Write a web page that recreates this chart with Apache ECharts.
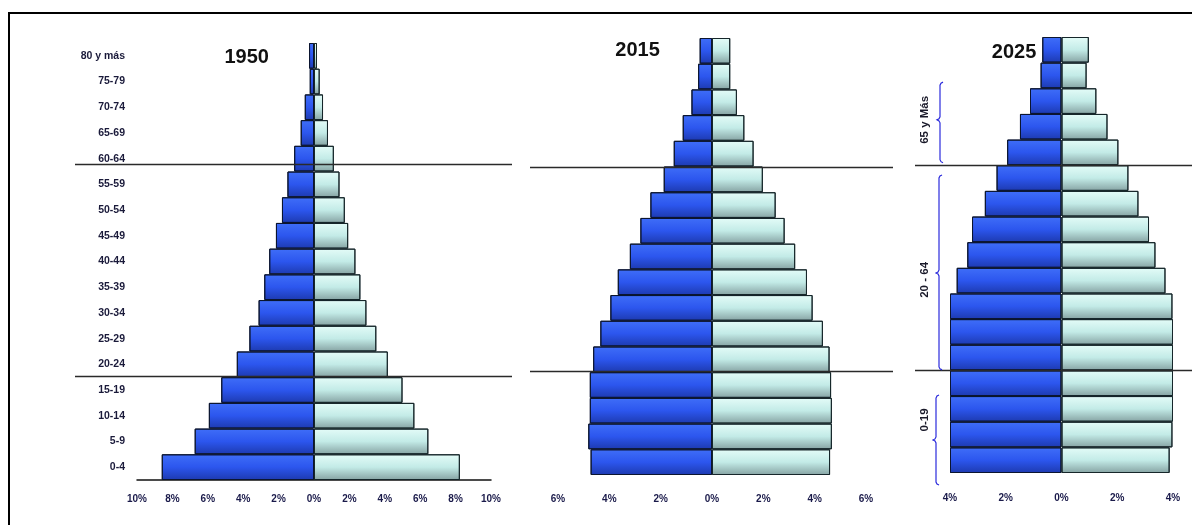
<!DOCTYPE html>
<html>
<head>
<meta charset="utf-8">
<script src="https://cdn.jsdelivr.net/npm/echarts@6/dist/echarts.min.js"></script>
<style>
html,body{margin:0;padding:0;background:#fff;}
#c{width:1192px;height:525px;}
</style>
</head>
<body>
<div id="c"></div>
<script>
// Age groups, bottom (youngest) to top
var categories = ['0-4','5-9','10-14','15-19','20-24','25-29','30-34','35-39','40-44','45-49','50-54','55-59','60-64','65-69','70-74','75-79','80 y más'];
var years = ['1950','2015','2025'];
// percentages (male shown left, female right)
var male1950   = [8.6,6.74,5.94,5.24,4.36,3.65,3.13,2.81,2.53,2.15,1.81,1.5,1.12,0.75,0.52,0.24,0.28];
var female1950 = [8.24,6.46,5.67,5.0,4.17,3.52,2.96,2.62,2.34,1.93,1.74,1.44,1.12,0.79,0.51,0.32,0.17];
var male2015   = [4.73,4.82,4.76,4.76,4.63,4.35,3.96,3.67,3.2,2.79,2.4,1.88,1.49,1.14,0.8,0.54,0.48];
var female2015 = [4.6,4.67,4.67,4.64,4.58,4.32,3.92,3.7,3.24,2.83,2.48,1.98,1.62,1.26,0.97,0.71,0.71];
var male2025   = [4.0,4.0,4.0,4.0,4.0,4.0,4.0,3.76,3.38,3.21,2.75,2.33,1.95,1.49,1.13,0.75,0.69];
var female2025 = [3.88,3.98,4.0,4.0,4.0,4.0,3.98,3.73,3.37,3.14,2.76,2.4,2.04,1.65,1.25,0.9,0.98];
var axisMax = [10,6,4];
var groupLabels = ['65 y Más','20 - 64','0-19'];

var FONT = '"Liberation Sans Narrow","Arial Narrow","Liberation Sans",Arial,sans-serif';
var maleColor = new echarts.graphic.LinearGradient(0,0,0,1,[
  {offset:0,color:'#3f6ef8'},{offset:0.5,color:'#2c56ee'},{offset:1,color:'#1d3ab0'}]);
var femaleColor = new echarts.graphic.LinearGradient(0,0,0,1,[
  {offset:0,color:'#e4fcf8'},{offset:0.5,color:'#c3ebe7'},{offset:1,color:'#86a3a3'}]);

var grids = [
  {left:137, right:701, top:43, bottom:45},
  {left:558, right:326, top:38, bottom:50},
  {left:950, right:19, top:37, bottom:52}
];
var labelMargin = [14, 19, 20];
var maleData = [male1950, male2015, male2025];
var femaleData = [female1950, female2015, female2025];

var xAxes = [], yAxes = [], series = [];
for (var i = 0; i < 3; i++) {
  xAxes.push({
    type:'value', gridIndex:i, min:-axisMax[i], max:axisMax[i], interval:2,
    axisLine:{show:i===0, onZero:false, lineStyle:{color:'#111', width:1.5}},
    axisTick:{show:false}, splitLine:{show:false},
    axisLabel:{margin:labelMargin[i], color:'#1a1a4a', fontWeight:'bold', fontSize:10, fontFamily:FONT,
      formatter:function(v){return Math.abs(v)+'%';}}
  });
  yAxes.push({
    type:'category', gridIndex:i, data:categories,
    axisLine:{show:false, onZero:false}, axisTick:{show:false},
    axisLabel:{show:i===0, margin:12, color:'#1a1a3a', fontWeight:'bold', fontSize:10.5, fontFamily:FONT}
  });
  series.push({
    type:'bar', name:'Hombres '+years[i], xAxisIndex:i, yAxisIndex:i,
    data: maleData[i].map(function(v){return -v;}),
    barCategoryGap:'0%', barGap:'-100%',
    itemStyle:{color:maleColor, borderColor:'#0b1530', borderWidth:1}
  });
  series.push({
    type:'bar', name:'Mujeres '+years[i], xAxisIndex:i, yAxisIndex:i,
    data: femaleData[i],
    barCategoryGap:'0%', barGap:'-100%',
    itemStyle:{color:femaleColor, borderColor:'#16262a', borderWidth:1}
  });
}

var chart = echarts.init(document.getElementById('c'), null, {renderer:'canvas'});
chart.setOption({
  animation:false,
  backgroundColor:'#fff',
  grid:grids, xAxis:xAxes, yAxis:yAxes, series:series
});

// helpers built from the library's own axes
function yAt(gi, p) {
  var y0 = chart.convertToPixel({yAxisIndex:gi}, categories[0]);
  var y1 = chart.convertToPixel({yAxisIndex:gi}, categories[1]);
  return y0 + p*(y1-y0);
}
function xAt(gi, v) { return chart.convertToPixel({xAxisIndex:gi}, v); }

var g = [];
// frame
g.push({type:'rect', shape:{x:9, y:13, width:1200, height:520}, style:{fill:'none', stroke:'#000', lineWidth:2}, z:100});
// titles
var titlePos = [[xAt(0,-3.8), 57],[xAt(1,-2.9), 50],[xAt(2,-1.7), 52]];
for (var t = 0; t < 3; t++) {
  g.push({type:'text', x:titlePos[t][0], y:titlePos[t][1],
    style:{text:years[t], fill:'#111', font:'bold 20px '+FONT, align:'center', verticalAlign:'middle'}, z:50});
}
// separator lines (between age groups)
var linePos = [[11.8,3.55],[11.5,3.55],[11.5,3.5]];
var lineX = [[75,512],[530,893],[915,1192]];
for (var k = 0; k < 3; k++) {
  for (var m = 0; m < 2; m++) {
    var yy = Math.round(yAt(k, linePos[k][m])) + 0.5;
    g.push({type:'line', shape:{x1:lineX[k][0], y1:yy, x2:lineX[k][1], y2:yy},
      style:{stroke:'#2a2a2a', lineWidth:1.5}, z:60});
  }
}
// braces on 2025 panel
var braces = [[14.74,11.6,13.27,940],[11.12,3.52,7.3,939],[2.54,-0.97,0.79,936]];
var labelP = [13.27,7.03,1.57];
for (var b = 0; b < 3; b++) {
  var ya = yAt(2, braces[b][0]), yb = yAt(2, braces[b][1]), ym = yAt(2, braces[b][2]);
  var bx = braces[b][3];
  var pts = [[bx+3,ya],[bx+1,ya+1],[bx,ya+3],[bx,ym-3],[bx-1,ym-1],[bx-3,ym],[bx-1,ym+1],[bx,ym+3],
             [bx,yb-3],[bx+1,yb-1],[bx+3,yb]];
  g.push({type:'polyline', shape:{points:pts}, style:{fill:'none', stroke:'#2b2bdc', lineWidth:1.2}, z:60});
  g.push({type:'text', x:925, y:yAt(2,labelP[b]), rotation:Math.PI/2,
    style:{text:groupLabels[b], fill:'#1a1a2a', font:'bold 11.5px '+FONT, align:'center', verticalAlign:'middle'}, z:60});
}
chart.setOption({graphic:g});
</script>
</body>
</html>
